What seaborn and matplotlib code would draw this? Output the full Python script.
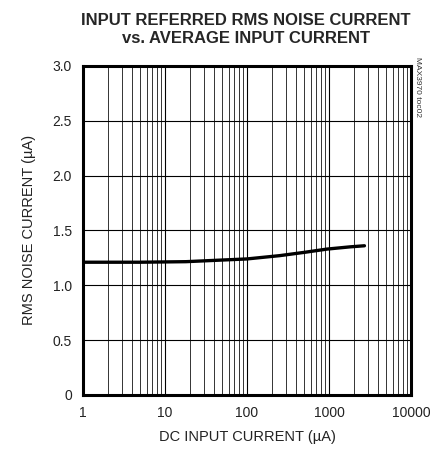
import seaborn as sns
import matplotlib.pyplot as plt
from matplotlib.ticker import LogLocator, FixedLocator, NullFormatter
import pandas as pd

# curve
dc_current_ua = [1, 5, 18, 50, 100, 250, 500, 950, 1800, 2700]
noise_current_ua = [1.21, 1.21, 1.215, 1.23, 1.24, 1.27, 1.30, 1.33, 1.35, 1.36]

x_ticks = [1, 10, 100, 1000, 10000]
x_labels = ["1", "10", "100", "1000", "10000"]
y_ticks = [0, 0.5, 1.0, 1.5, 2.0, 2.5, 3.0]
y_labels = ["0", "0.5", "1.0", "1.5", "2.0", "2.5", "3.0"]

df = pd.DataFrame({"dc": dc_current_ua, "noise": noise_current_ua})

sns.set_style("white")
plt.rcParams['font.family'] = ['Liberation Sans', 'DejaVu Sans']

fig = plt.figure(figsize=(4.3, 4.54), dpi=100)
ax = fig.add_axes([0.193, 0.13, 0.763, 0.725])

sns.lineplot(data=df, x="dc", y="noise", color="black", linewidth=2.4, ax=ax)

ax.set_xscale("log")
ax.set_xlim(1, 10000)
ax.set_ylim(0, 3.0)

ax.xaxis.set_major_locator(FixedLocator(x_ticks))
ax.set_xticklabels(x_labels)
ax.xaxis.set_minor_locator(LogLocator(base=10, subs=range(2, 10)))
ax.xaxis.set_minor_formatter(NullFormatter())
ax.set_yticks(y_ticks)
ax.set_yticklabels(y_labels)

ax.grid(True, which="major", axis="both", color="black", linewidth=0.8)
ax.grid(True, which="minor", axis="x", color="#333333", linewidth=0.7)
ax.tick_params(which="both", length=0, labelsize=10, pad=8, colors="#222222")

for side in ax.spines.values():
    side.set_linewidth(2.2)
    side.set_color("black")

ax.set_xlabel("DC INPUT CURRENT (\u00b5A)", fontsize=10.5, labelpad=7, color="#222222")
ax.set_ylabel("RMS NOISE CURRENT (\u00b5A)", fontsize=10.5, labelpad=12, color="#222222")

fig.text(0.572, 0.935, "INPUT REFERRED RMS NOISE CURRENT\nvs. AVERAGE INPUT CURRENT",
         ha="center", va="center", fontsize=12, fontweight="bold", linespacing=1.3)
fig.text(0.972, 0.875, "MAX3970 toc02", rotation=270, ha="center", va="top",
         fontsize=6, color="#333333")

fig.savefig("out.png", dpi=100)
